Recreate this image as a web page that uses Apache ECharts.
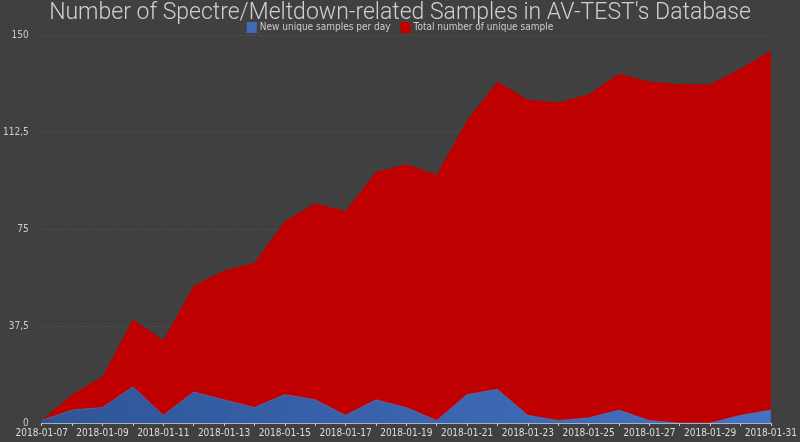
<!DOCTYPE html>
<html><head><meta charset="utf-8">
<script src="https://cdn.jsdelivr.net/npm/echarts@6/dist/echarts.min.js"></script>
<style>html,body{margin:0;padding:0;background:#404040;}#c{width:800px;height:442px;}</style>
</head><body><div id="c"></div>
<script>
var dates = ['2018-01-07','2018-01-08','2018-01-09','2018-01-10','2018-01-11','2018-01-12','2018-01-13','2018-01-14','2018-01-15','2018-01-16','2018-01-17','2018-01-18','2018-01-19','2018-01-20','2018-01-21','2018-01-22','2018-01-23','2018-01-24','2018-01-25','2018-01-26','2018-01-27','2018-01-28','2018-01-29','2018-01-30','2018-01-31'];
var newPerDay = [1,5,6,14,3,12,9,6,11,9,3,9,6,1,11,13,3,1,2,5,1,0,0,3,5];
var totalSamples = [1,11,18,40,32,53,59,62,78,85,82,97,100,96,117,132,125,124,127,135,132,131,131,137,144];
var yTicks = [0,37.5,75,112.5,150];

var chart = echarts.init(document.getElementById('c'));
chart.setOption({
  backgroundColor: '#404040',
  animation: false,
  title: {
    text: "Number of Spectre/Meltdown-related Samples in AV-TEST's Database",
    left: 'center', top: -3,
    textStyle: {color: '#d0d0d0', fontSize: 23, fontWeight: 300, fontFamily: 'Roboto'}
  },
  legend: {
    data: ['New unique samples per day', 'Total number of unique sample'],
    top: 17, left: 'center', itemWidth: 10, itemHeight: 11, itemGap: 10,
    icon: 'rect',
    textStyle: {color: '#cccccc', fontSize: 10, fontFamily: 'DejaVu Sans Condensed', padding: [0,0,0,-2]}
  },
  grid: {left: 36, right: 27, top: 35, bottom: 19},
  xAxis: {
    type: 'category', data: dates, boundaryGap: false,
    axisLine: {lineStyle: {color: '#a8b0c8', width: 1}},
    axisTick: {alignWithLabel: true, interval: 0, length: 3, lineStyle: {color: '#cccccc'}},
    axisLabel: {interval: 1, color: '#dddddd', fontSize: 10, fontFamily: 'DejaVu Sans Condensed', margin: 5},
    splitLine: {show: false}
  },
  yAxis: {
    type: 'value', min: 0, max: 150, interval: 37.5,
    axisLine: {show: false}, axisTick: {show: false},
    axisLabel: {color: '#cccccc', fontSize: 10, fontFamily: 'DejaVu Sans Condensed', margin: 13,
      formatter: function (v) { return String(v).replace('.', ','); }},
    splitLine: {lineStyle: {color: '#5a5a5a', type: [1, 2]}}
  },
  series: [
    {
      name: 'Total number of unique sample', type: 'line', data: totalSamples,
      symbol: 'none', lineStyle: {width: 0}, itemStyle: {color: '#c00000'},
      areaStyle: {color: '#bf0000', opacity: 1}
    },
    {
      name: 'New unique samples per day', type: 'line', data: newPerDay,
      symbol: 'none', lineStyle: {width: 0.5, color: '#5b80c8'}, itemStyle: {color: '#3f6ab8'},
      areaStyle: {opacity: 1, color: new echarts.graphic.LinearGradient(0, 0, 1, 0, [
        {offset: 0, color: '#2f5597'}, {offset: 1, color: '#4472c4'}])}
    }
  ]
});
</script></body></html>
